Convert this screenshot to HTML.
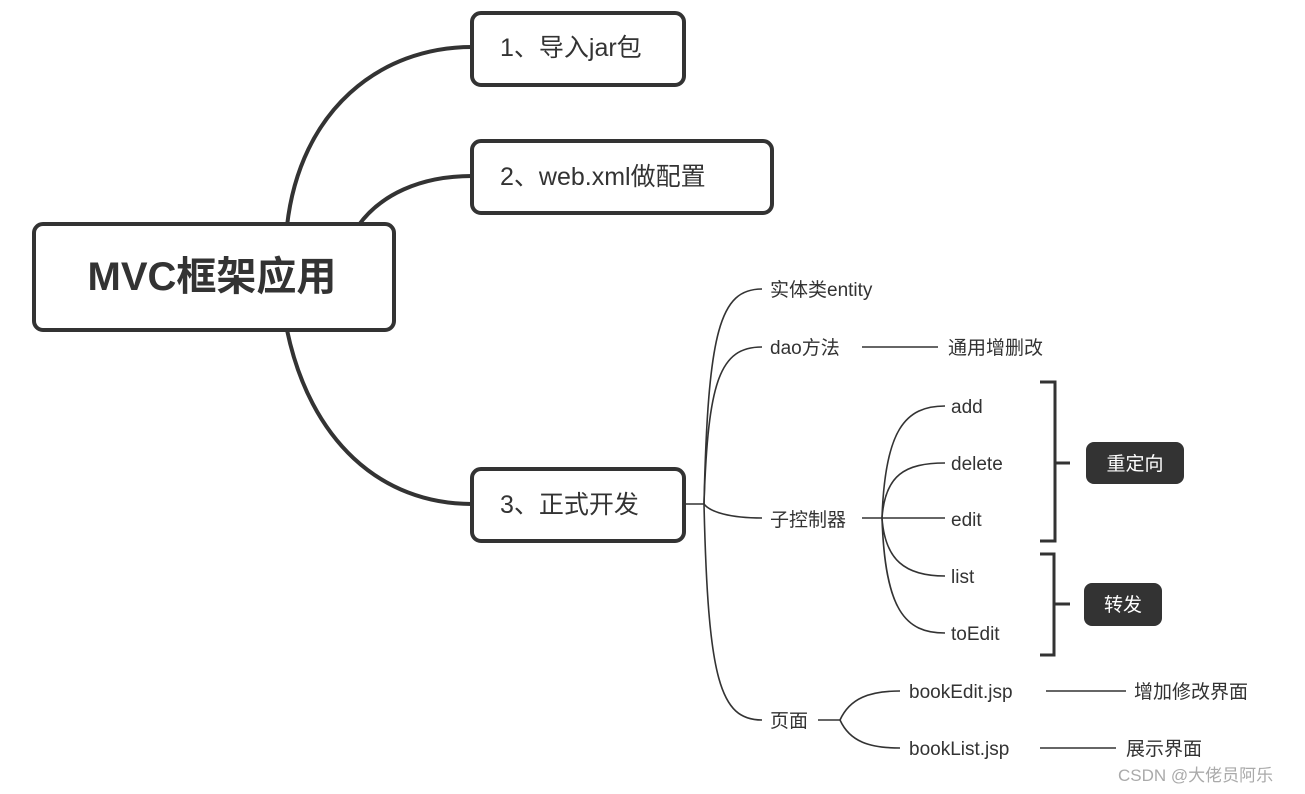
<!DOCTYPE html>
<html><head><meta charset="utf-8"><style>
html,body{margin:0;padding:0;background:#fff;}
svg{display:block;}
text{font-family:"Liberation Sans","Noto Sans CJK SC",sans-serif;fill:#333;}
</style></head><body>
<svg width="1305" height="794" viewBox="0 0 1305 794" xmlns="http://www.w3.org/2000/svg">
<g fill="none" stroke="#333" stroke-width="4">
<path d="M287,226 C300,110 380,47 472,47"/>
<path d="M358,226 C380,195 420,176 472,176"/>
<path d="M287,330 C310,440 380,504 472,504"/>
<rect x="34" y="224" width="360" height="106" rx="9" fill="#fff"/>
<rect x="472" y="13" width="212" height="72" rx="9" fill="#fff"/>
<rect x="472" y="141" width="300" height="72" rx="9" fill="#fff"/>
<rect x="472" y="469" width="212" height="72" rx="9" fill="#fff"/>
</g>
<g fill="none" stroke="#333" stroke-width="1.6">
<path d="M684,504 L704,504"/>
<path d="M704,504 C708,330 720,289 762,289"/>
<path d="M704,504 C708,380 720,347 762,347"/>
<path d="M704,504 C710,512 730,518 762,518"/>
<path d="M704,504 C708,680 720,720 762,720"/>
<path d="M862,347 L938,347"/>
<path d="M862,518 L945,518"/>
<path d="M882,518 C885,430 905,406 945,406"/>
<path d="M882,518 C885,475 905,463 945,463"/>
<path d="M882,518 C885,560 905,576 945,576"/>
<path d="M882,518 C885,610 905,633 945,633"/>
<path d="M818,720 L840,720"/>
<path d="M840,720 C850,698 870,691 900,691"/>
<path d="M840,720 C850,742 870,748 900,748"/>
<path d="M1046,691 L1126,691"/>
<path d="M1040,748 L1116,748"/>
</g>
<g fill="none" stroke="#333" stroke-width="3">
<path d="M1040,382 L1055,382 L1055,541 L1040,541"/>
<path d="M1055,463 L1070,463"/>
<path d="M1040,554 L1054,554 L1054,655 L1040,655"/>
<path d="M1054,604 L1070,604"/>
</g>
<rect x="1086" y="442" width="98" height="42" rx="8" fill="#333"/>
<rect x="1084" y="583" width="78" height="43" rx="8" fill="#333"/>
<text x="212" y="290" font-size="40" font-weight="bold" text-anchor="middle">MVC框架应用</text>
<text x="500" y="56" font-size="25">1、导入jar包</text>
<text x="500" y="185" font-size="25">2、web.xml做配置</text>
<text x="500" y="513" font-size="25">3、正式开发</text>
<g font-size="19">
<text x="770" y="296">实体类entity</text>
<text x="770" y="354">dao方法</text>
<text x="948" y="354">通用增删改</text>
<text x="770" y="526">子控制器</text>
<text x="770" y="727">页面</text>
<text x="951" y="413">add</text>
<text x="951" y="470">delete</text>
<text x="951" y="526">edit</text>
<text x="951" y="583">list</text>
<text x="951" y="640">toEdit</text>
<text x="909" y="698">bookEdit.jsp</text>
<text x="909" y="755">bookList.jsp</text>
<text x="1134" y="698">增加修改界面</text>
<text x="1126" y="755">展示界面</text>
<text x="1135" y="470" style="fill:#fff" text-anchor="middle">重定向</text>
<text x="1123" y="611" style="fill:#fff" text-anchor="middle">转发</text>
</g>
<text x="1118" y="781" font-size="17" style="fill:#aaa">CSDN @大佬员阿乐</text>
</svg>
</body></html>
